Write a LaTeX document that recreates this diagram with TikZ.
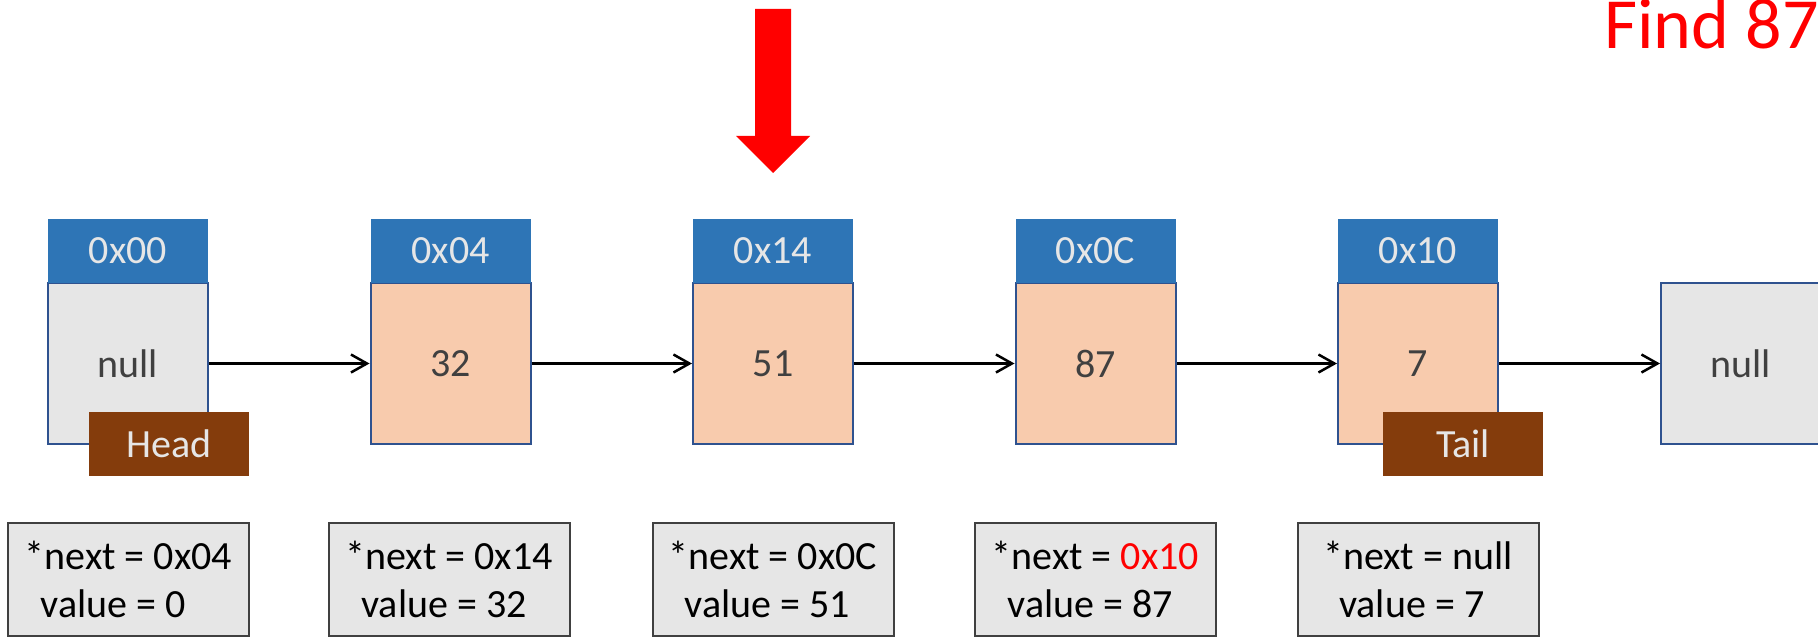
\documentclass[tikz,border=0pt]{standalone}
\usepackage{fontspec}
\setmainfont{Carlito}
\usetikzlibrary{arrows.meta}
\definecolor{hblue}{HTML}{2E75B6}
\definecolor{bborder}{HTML}{2F528F}
\definecolor{peach}{HTML}{F8CBAD}
\definecolor{lgray}{HTML}{E6E6E6}
\definecolor{brownlbl}{HTML}{843C0C}
\definecolor{dtext}{HTML}{404040}
\definecolor{infoborder}{HTML}{404040}
\definecolor{redc}{HTML}{FF0000}
\tikzset{
  hdr/.style={rectangle, fill=hblue, minimum width=80pt, minimum height=32pt, inner sep=0pt, text=lgray, font=\fontsize{20}{24}\selectfont},
  body/.style={rectangle, draw=bborder, line width=1pt, minimum width=80pt, minimum height=80.5pt, inner sep=0pt, text=dtext, font=\fontsize{20}{24}\selectfont},
  lbl/.style={rectangle, fill=brownlbl, minimum width=80pt, minimum height=32pt, inner sep=0pt, text=lgray, font=\fontsize{20}{24}\selectfont},
  info/.style={rectangle, draw=infoborder, fill=lgray, line width=1pt, minimum width=120.5pt, minimum height=56.5pt, inner sep=0pt, align=left, text=black, font=\fontsize{20}{24}\selectfont},
  arr/.style={-{Straight Barb[length=8pt,width=9pt]}, line width=1.25pt, black},
}
\begin{document}
\begin{tikzpicture}[x=0.5pt,y=-0.5pt]
\useasboundingbox (0,0) rectangle (1818,641);
% bodies
\node[body, fill=lgray] (b1) at (128,363.5) {null};
\node[body, fill=peach] (b2) at (450.5,363.5) {32};
\node[body, fill=peach] (b3) at (773,363.5) {51};
\node[body, fill=peach] (b4) at (1095.5,363.5) {87};
\node[body, fill=peach] (b5) at (1418,363.5) {7};
\node[body, fill=lgray] (b6) at (1741,363.5) {null};
% headers
\node[hdr] (h1) at (128,251) {0x00};
\node[hdr] (h2) at (450.5,251) {0x04};
\node[hdr] (h3) at (773,251) {0x14};
\node[hdr] (h4) at (1095.5,251) {0x0C};
\node[hdr] (h5) at (1418,251) {0x10};
% labels
\node[lbl] (head) at (169,444) {Head};
\node[lbl] (tail) at (1463,444) {Tail};
% connectors
\draw[arr] (b1.east) -- (b2.west);
\draw[arr] (b2.east) -- (b3.west);
\draw[arr] (b3.east) -- (b4.west);
\draw[arr] (b4.east) -- (b5.west);
\draw[arr] (b5.east) -- (b6.west);
% info boxes
\node[info] (i1) at (128.5,579.5) {*next = 0x04\\\hspace{8pt}value = 0};
\node[info] (i2) at (449,579.5) {*next = 0x14\\\hspace{8pt}value = 32};
\node[info] (i3) at (773,579.5) {*next = 0x0C\\\hspace{8pt}value = 51};
\node[info] (i4) at (1095.5,579.5) {*next = \textcolor{redc}{0x10}\\\hspace{8pt}value = 87};
\node[info] (i5) at (1418,579.5) {*next = null\\\hspace{8pt}value = 7};
% red pointer arrow
\fill[redc] (755,9) -- (791,9) -- (791,136) -- (810,136) -- (773,173) -- (736,136) -- (755,136) -- cycle;
% title
\node[anchor=base west, inner sep=0pt, text=redc, font=\fontsize{36}{40}\selectfont] (title) at (1604,49) {Find 87};
\end{tikzpicture}
\end{document}
